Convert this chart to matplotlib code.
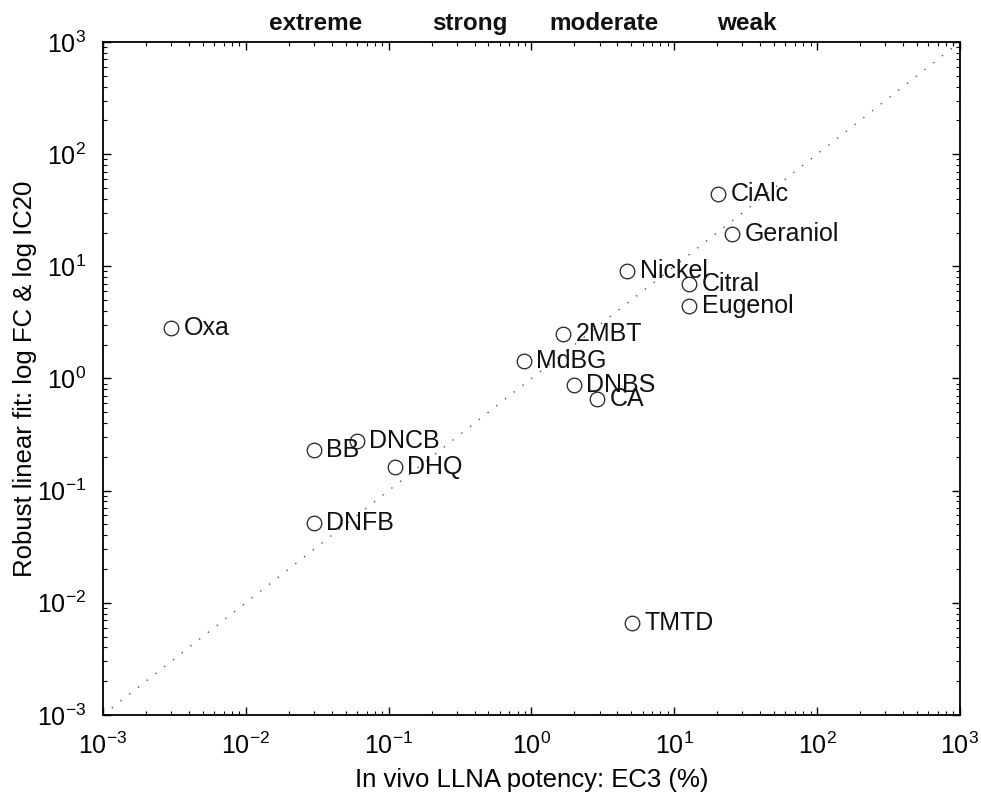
import matplotlib
matplotlib.use("Agg")
import matplotlib.pyplot as plt
import matplotlib.transforms as mtransforms

plt.rcParams['font.family'] = ['Liberation Sans', 'DejaVu Sans']
plt.rcParams['mathtext.fontset'] = 'custom'
plt.rcParams['mathtext.rm'] = 'Liberation Sans'
plt.rcParams['mathtext.it'] = 'Liberation Sans:italic'
plt.rcParams['mathtext.bf'] = 'Liberation Sans:bold'
plt.rcParams['mathtext.default'] = 'regular'

names = ["Oxa", "BB", "DNCB", "DHQ", "DNFB", "MdBG", "2MBT", "DNBS", "CA",
         "Nickel", "Citral", "Eugenol", "CiAlc", "Geraniol", "TMTD"]
ec3 = [0.0030, 0.030, 0.060, 0.110, 0.030, 0.88, 1.67, 1.97, 2.90,
       4.7, 12.7, 12.7, 20.3, 25.5, 5.08]
fit = [2.79, 0.232, 0.279, 0.164, 0.0518, 1.42, 2.47, 0.88, 0.66,
       9.0, 6.9, 4.4, 44.0, 19.3, 0.0066]

classes = ["extreme", "strong", "moderate", "weak"]
class_pos = [0.031, 0.37, 3.2, 32]

fig = plt.figure(figsize=(9.81, 7.93), dpi=100)
ax = fig.add_axes([0.105, 0.0985, 0.8735, 0.8485])

ax.set_xscale('log')
ax.set_yscale('log')
ax.set_xlim(1e-3, 1e3)
ax.set_ylim(1e-3, 1e3)

lim = [1e-3, 1e3]
ax.plot(lim, lim, color='#555555', lw=1.0, linestyle=(0, (1, 7)), zorder=1)

ax.plot(ec3, fit, linestyle='none', marker='o', markersize=10.5,
        markerfacecolor='white', markeredgecolor='#222222', markeredgewidth=0.9, zorder=2)

for n, x, y in zip(names, ec3, fit):
    ax.annotate(n, (x, y), xytext=(9, 0), textcoords='offset points',
                ha='left', va='center', fontsize=18, color='#111111', zorder=3)

top_tr = ax.get_xaxis_transform() + mtransforms.ScaledTranslation(0, 8.6/72, fig.dpi_scale_trans)
for c, x in zip(classes, class_pos):
    ax.text(x, 1.0, c, transform=top_tr, ha='center', va='baseline',
            fontsize=17.5, fontweight='bold', color='#111111')

ax.tick_params(which='both', direction='in', top=True, right=True, labelsize=18)
ax.tick_params(axis='x', which='major', pad=13)
ax.tick_params(axis='y', which='major', pad=12)
ax.tick_params(which='major', length=6, width=1.0)
ax.tick_params(which='minor', length=3, width=0.8)
for s in ax.spines.values():
    s.set_linewidth(1.3)

ax.set_xlabel("In vivo LLNA potency: EC3 (%)", fontsize=18.5, labelpad=6)
ax.set_ylabel("Robust linear fit: log FC & log IC20", fontsize=18.5, labelpad=0)

fig.savefig("out.png", dpi=100)
